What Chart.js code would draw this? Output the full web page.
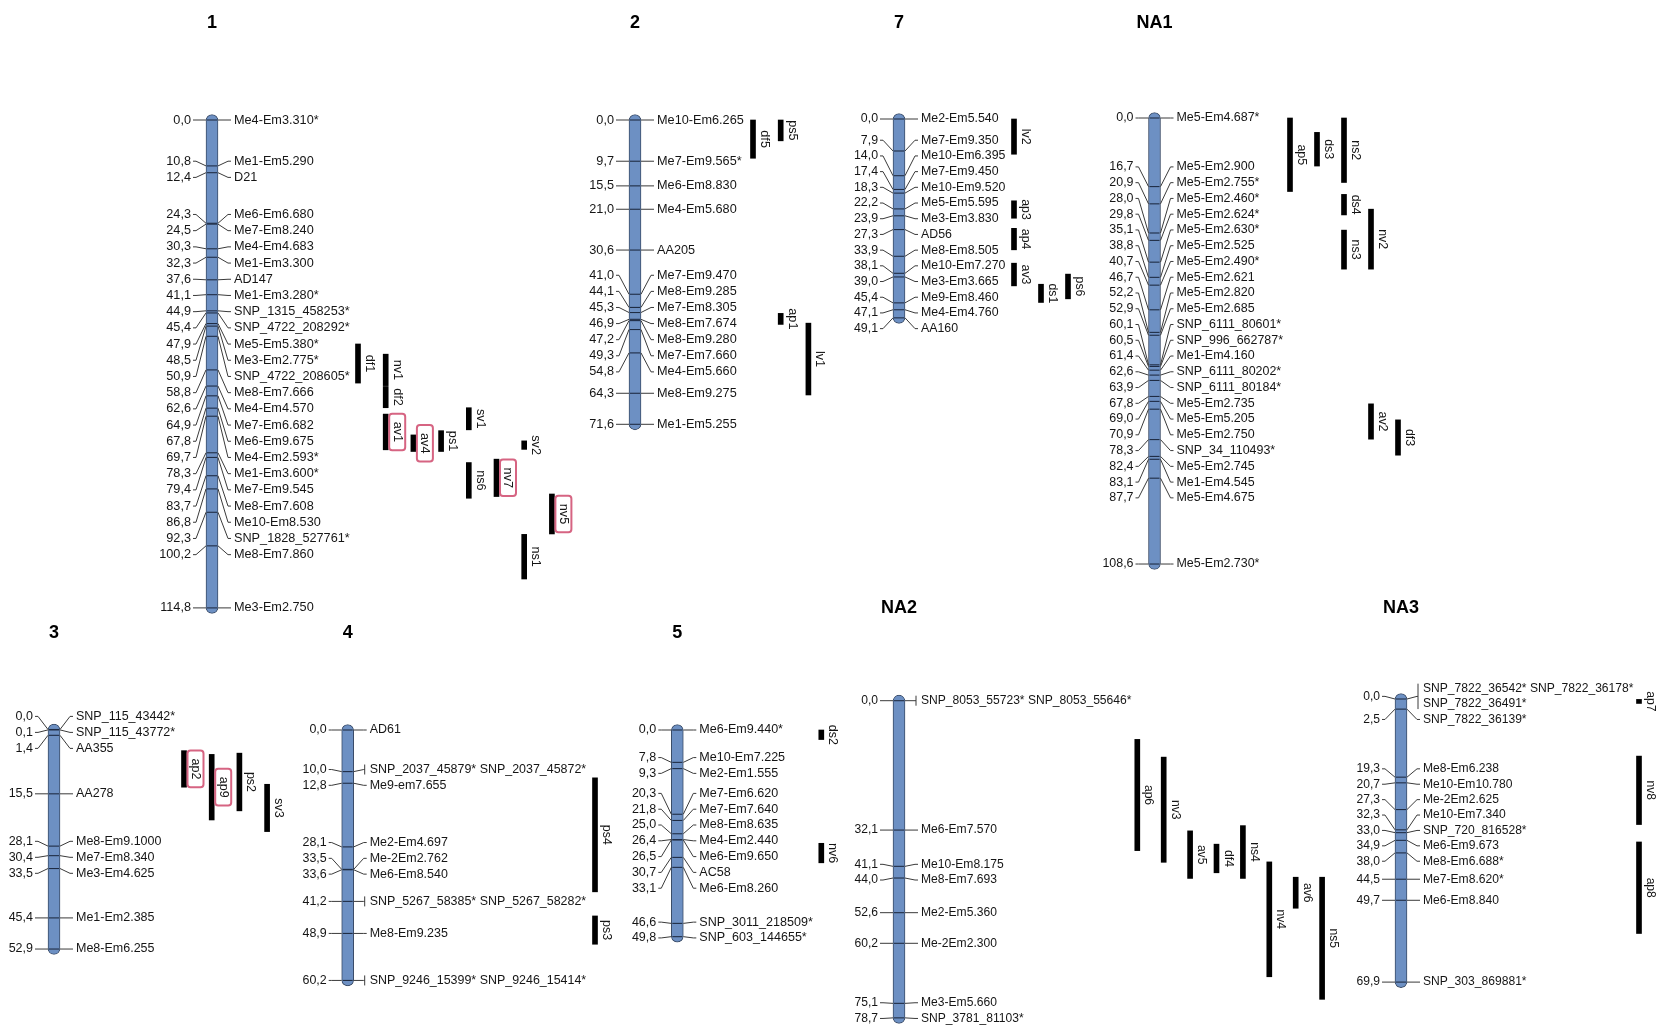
<!DOCTYPE html>
<html>
<head>
<meta charset="utf-8">
<title>Linkage map</title>
<script src="https://cdn.jsdelivr.net/npm/chart.js@4.4.1/dist/chart.umd.min.js"></script>
<style>
  html, body { margin: 0; padding: 0; background: #ffffff; overflow: hidden; }
  canvas { display: block; }
</style>
</head>
<body>
<canvas id="map" width="1656" height="1026"></canvas>
<script>
// ---------------------------------------------------------------
// Linkage groups (order of drawing)
// ---------------------------------------------------------------
const groupKeys = ['1', '2', '7', 'NA1', '3', '4', '5', 'NA2', 'NA3'];

// Marker positions (cM) and marker names per linkage group.
// An array of names means several markers share one locus.
const g1Pos = [0.0, 10.8, 12.4, 24.3, 24.5, 30.3, 32.3, 37.6, 41.1, 44.9, 45.4, 47.9, 48.5, 50.9, 58.8, 62.6, 64.9, 67.8, 69.7, 78.3, 79.4, 83.7, 86.8, 92.3, 100.2, 114.8];
const g1Names = ['Me4-Em3.310*', 'Me1-Em5.290', 'D21', 'Me6-Em6.680', 'Me7-Em8.240', 'Me4-Em4.683', 'Me1-Em3.300', 'AD147', 'Me1-Em3.280*', 'SNP_1315_458253*', 'SNP_4722_208292*', 'Me5-Em5.380*', 'Me3-Em2.775*', 'SNP_4722_208605*', 'Me8-Em7.666', 'Me4-Em4.570', 'Me7-Em6.682', 'Me6-Em9.675', 'Me4-Em2.593*', 'Me1-Em3.600*', 'Me7-Em9.545', 'Me8-Em7.608', 'Me10-Em8.530', 'SNP_1828_527761*', 'Me8-Em7.860', 'Me3-Em2.750'];

const g2Pos = [0.0, 9.7, 15.5, 21.0, 30.6, 41.0, 44.1, 45.3, 46.9, 47.2, 49.3, 54.8, 64.3, 71.6];
const g2Names = ['Me10-Em6.265', 'Me7-Em9.565*', 'Me6-Em8.830', 'Me4-Em5.680', 'AA205', 'Me7-Em9.470', 'Me8-Em9.285', 'Me7-Em8.305', 'Me8-Em7.674', 'Me8-Em9.280', 'Me7-Em7.660', 'Me4-Em5.660', 'Me8-Em9.275', 'Me1-Em5.255'];

const g7Pos = [0.0, 7.9, 14.0, 17.4, 18.3, 22.2, 23.9, 27.3, 33.9, 38.1, 39.0, 45.4, 47.1, 49.1];
const g7Names = ['Me2-Em5.540', 'Me7-Em9.350', 'Me10-Em6.395', 'Me7-Em9.450', 'Me10-Em9.520', 'Me5-Em5.595', 'Me3-Em3.830', 'AD56', 'Me8-Em8.505', 'Me10-Em7.270', 'Me3-Em3.665', 'Me9-Em8.460', 'Me4-Em4.760', 'AA160'];

const na1Pos = [0.0, 16.7, 20.9, 28.0, 29.8, 35.1, 38.8, 40.7, 46.7, 52.2, 52.9, 60.1, 60.5, 61.4, 62.6, 63.9, 67.8, 69.0, 70.9, 78.3, 82.4, 83.1, 87.7, 108.6];
const na1Names = ['Me5-Em4.687*', 'Me5-Em2.900', 'Me5-Em2.755*', 'Me5-Em2.460*', 'Me5-Em2.624*', 'Me5-Em2.630*', 'Me5-Em2.525', 'Me5-Em2.490*', 'Me5-Em2.621', 'Me5-Em2.820', 'Me5-Em2.685', 'SNP_6111_80601*', 'SNP_996_662787*', 'Me1-Em4.160', 'SNP_6111_80202*', 'SNP_6111_80184*', 'Me5-Em2.735', 'Me5-Em5.205', 'Me5-Em2.750', 'SNP_34_110493*', 'Me5-Em2.745', 'Me1-Em4.545', 'Me5-Em4.675', 'Me5-Em2.730*'];

const g3Pos = [0.0, 0.1, 1.4, 15.5, 28.1, 30.4, 33.5, 45.4, 52.9];
const g3Names = ['SNP_115_43442*', 'SNP_115_43772*', 'AA355', 'AA278', 'Me8-Em9.1000', 'Me7-Em8.340', 'Me3-Em4.625', 'Me1-Em2.385', 'Me8-Em6.255'];

const g4Pos = [0.0, 10.0, 12.8, 28.1, 33.5, 33.6, 41.2, 48.9, 60.2];
const g4Names = ['AD61', ['SNP_2037_45879*', 'SNP_2037_45872*'], 'Me9-em7.655', 'Me2-Em4.697', 'Me-2Em2.762', 'Me6-Em8.540', ['SNP_5267_58385*', 'SNP_5267_58282*'], 'Me8-Em9.235', ['SNP_9246_15399*', 'SNP_9246_15414*']];

const g5Pos = [0.0, 7.8, 9.3, 20.3, 21.8, 25.0, 26.4, 26.5, 30.7, 33.1, 46.6, 49.8];
const g5Names = ['Me6-Em9.440*', 'Me10-Em7.225', 'Me2-Em1.555', 'Me7-Em6.620', 'Me7-Em7.640', 'Me8-Em8.635', 'Me4-Em2.440', 'Me6-Em9.650', 'AC58', 'Me6-Em8.260', 'SNP_3011_218509*', 'SNP_603_144655*'];

const na2Pos = [0.0, 32.1, 41.1, 44.0, 52.6, 60.2, 75.1, 78.7];
const na2Names = [['SNP_8053_55723*', 'SNP_8053_55646*'], 'Me6-Em7.570', 'Me10-Em8.175', 'Me8-Em7.693', 'Me2-Em5.360', 'Me-2Em2.300', 'Me3-Em5.660', 'SNP_3781_81103*'];

const na3Pos = [0.0, 2.5, 19.3, 20.7, 27.3, 32.3, 33.0, 34.9, 38.0, 44.5, 49.7, 69.9];
const na3Names = [['SNP_7822_36542*', 'SNP_7822_36178*', 'SNP_7822_36491*'], 'SNP_7822_36139*', 'Me8-Em6.238', 'Me10-Em10.780', 'Me-2Em2.625', 'Me10-Em7.340', 'SNP_720_816528*', 'Me6-Em9.673', 'Me8-Em6.688*', 'Me7-Em8.620*', 'Me6-Em8.840', 'SNP_303_869881*'];

// ---------------------------------------------------------------
// QTL intervals (cM)
// ---------------------------------------------------------------
const qtlNames = ['df1', 'nv1', 'df2', 'av1', 'av4', 'ps1', 'sv1', 'ns6', 'nv7', 'sv2', 'nv5', 'ns1',
                  'df5', 'ps5', 'ap1', 'lv1',
                  'lv2', 'ap3', 'ap4', 'av3', 'ds1', 'ps6',
                  'ap5', 'ds3', 'ns2', 'ds4', 'ns3', 'nv2', 'av2', 'df3',
                  'ap2', 'ap9', 'ps2', 'sv3',
                  'ps4', 'ps3',
                  'ds2', 'nv6',
                  'ap6', 'nv3', 'av5', 'df4', 'ns4', 'nv4', 'av6', 'ns5',
                  'ap7', 'nv8', 'ap8'];
const qtlGroup = ['1', '1', '1', '1', '1', '1', '1', '1', '1', '1', '1', '1',
                  '2', '2', '2', '2',
                  '7', '7', '7', '7', '7', '7',
                  'NA1', 'NA1', 'NA1', 'NA1', 'NA1', 'NA1', 'NA1', 'NA1',
                  '3', '3', '3', '3',
                  '4', '4',
                  '5', '5',
                  'NA2', 'NA2', 'NA2', 'NA2', 'NA2', 'NA2', 'NA2', 'NA2',
                  'NA3', 'NA3', 'NA3'];
const qtlStart = [52.7, 55.1, 62.7, 69.2, 74.1, 73.1, 67.7, 80.6, 79.8, 75.5, 88.0, 97.5,
                  0.0, 0.0, 45.5, 47.8,
                  0.0, 20.2, 27.0, 35.6, 40.8, 38.3,
                  0.0, 3.5, 0.0, 18.6, 27.3, 22.2, 69.6, 73.5,
                  5.1, 6.0, 5.7, 13.2,
                  11.5, 44.7,
                  0.0, 27.3,
                  9.6, 14.0, 32.3, 35.6, 31.0, 40.0, 43.8, 43.8,
                  0.1, 14.1, 35.3];
const qtlEnd   = [61.9, 62.5, 67.7, 77.6, 78.0, 78.0, 72.9, 89.0, 88.6, 77.5, 97.4, 108.0,
                  9.0, 4.9, 48.1, 64.7,
                  8.7, 24.5, 32.3, 41.2, 45.3, 44.4,
                  17.9, 11.7, 15.7, 23.6, 36.8, 36.8, 78.2, 82.1,
                  13.9, 21.8, 19.6, 24.6,
                  38.9, 51.5,
                  2.3, 32.0,
                  37.2, 40.1, 44.1, 42.7, 44.1, 68.5, 51.5, 74.1,
                  1.1, 31.0, 57.9];
// QTLs whose labels are framed
const qtlFramed = ['av1', 'av4', 'nv7', 'nv5', 'ap2', 'ap9'];

// ---------------------------------------------------------------
// Layout (page geometry, not data)
// ---------------------------------------------------------------
const W = 1656, H = 1026;
const positions = { '1': g1Pos, '2': g2Pos, '7': g7Pos, 'NA1': na1Pos, '3': g3Pos, '4': g4Pos, '5': g5Pos, 'NA2': na2Pos, 'NA3': na3Pos };
const markerNames = { '1': g1Names, '2': g2Names, '7': g7Names, 'NA1': na1Names, '3': g3Names, '4': g4Names, '5': g5Names, 'NA2': na2Names, 'NA3': na3Names };

// x: chromosome centre, y0: pixel row of 0 cM, k: pixels per cM,
// gap: label row pitch, fs: label font size, titleY: title row
const groupLayout = {
  '1':   { x: 212,    y0: 120,   k: 4.25,  gap: 16.2,  fs: 12.7,  titleY: 23 },
  '2':   { x: 635,    y0: 120,   k: 4.25,  gap: 16.1,  fs: 12.7,  titleY: 23 },
  '7':   { x: 899,    y0: 119,   k: 4.05,  gap: 15.7,  fs: 12.35, titleY: 23 },
  'NA1': { x: 1154.5, y0: 118,   k: 4.107, gap: 15.76, fs: 12.45, titleY: 23 },
  '3':   { x: 54,     y0: 729.5, k: 4.15,  gap: 16.0,  fs: 12.5,  titleY: 633 },
  '4':   { x: 347.7,  y0: 730,   k: 4.16,  gap: 15.8,  fs: 12.45, titleY: 633 },
  '5':   { x: 677.3,  y0: 730,   k: 4.15,  gap: 15.8,  fs: 12.55, titleY: 633 },
  'NA2': { x: 899,    y0: 700.7, k: 4.03,  gap: 15.7,  fs: 12.1,  titleY: 608 },
  'NA3': { x: 1401,   y0: 699.0, k: 4.05,  gap: 15.4,  fs: 12.1,  titleY: 608 }
};
// QTL bar columns: first column centre and column pitch per group
const qtlColumnLayout = {
  '1': { x0: 358, step: 27.7 }, '2': { x0: 753, step: 27.7 }, '7': { x0: 1014, step: 27 },
  'NA1': { x0: 1290, step: 27 }, '3': { x0: 184, step: 27.7 }, '4': { x0: 595, step: 27.7 },
  '5': { x0: 821.3, step: 27.7 }, 'NA2': { x0: 1137.3, step: 26.4 }, 'NA3': { x0: 1639, step: 27 }
};
// column index of each QTL bar (parallel to qtlNames)
const qtlColumn = [0, 1, 1, 1, 2, 3, 4, 4, 5, 6, 7, 6,
                   0, 1, 1, 2,
                   0, 0, 0, 0, 1, 2,
                   0, 1, 2, 2, 2, 3, 3, 4,
                   0, 1, 2, 3,
                   0, 0,
                   0, 0,
                   0, 1, 2, 3, 4, 5, 6, 7,
                   0, 0, 0];

const CHROM_W = 12;
const CHROM_PAD_PX = 5.5;
const QTL_W = 5;
const FONT_FAMILY = "'Liberation Sans', Arial, sans-serif";
const TITLE_FONT = "bold 18px " + FONT_FAMILY;
const CHROM_FILL = '#6d90c3';
const CHROM_EDGE = '#3a4b66';
const BAND_COLOR = '#1f2c44';
const LINE_COLOR = '#3a3a3a';
const TEXT_COLOR = '#151515';
const FRAME_COLOR = '#d66482';

function labelFont(key) { return groupLayout[key].fs + 'px ' + FONT_FAMILY; }

function qtlX(i) {
  const c = qtlColumnLayout[qtlGroup[i]];
  return c.x0 + qtlColumn[i] * c.step;
}

function fmtCM(v) { return v.toFixed(1).replace('.', ','); }

// names of one locus wrapped two per row
function rowsOf(entry) {
  if (!Array.isArray(entry)) return [entry];
  const rows = [];
  for (let i = 0; i < entry.length; i += 2) rows.push(entry.slice(i, i + 2).join(' '));
  return rows;
}

// Spread marker labels so that rows are at least `gap` apart; overlapping
// runs are merged and centred on the midpoint of their first and last marker.
function spreadLabels(ys, rowCounts, gap) {
  let clusters = ys.map((y, i) => ({ a: i, b: i }));
  const extent = c => {
    let n = 0;
    for (let i = c.a; i <= c.b; i++) n += rowCounts[i];
    const mid = (ys[c.a] + ys[c.b]) / 2;
    return { top: mid - (n - 1) * gap / 2, bot: mid + (n - 1) * gap / 2 };
  };
  let changed = true;
  while (changed) {
    changed = false;
    for (let i = 0; i < clusters.length - 1; i++) {
      if (extent(clusters[i + 1]).top - extent(clusters[i]).bot < gap - 0.01) {
        clusters.splice(i, 2, { a: clusters[i].a, b: clusters[i + 1].b });
        changed = true;
        break;
      }
    }
  }
  const out = [];
  clusters.forEach(c => {
    let t = extent(c).top;
    for (let i = c.a; i <= c.b; i++) {
      const r = [];
      for (let j = 0; j < rowCounts[i]; j++) r.push(t + j * gap);
      out[i] = r;
      t += rowCounts[i] * gap;
    }
  });
  return out;
}

function roundRectPath(ctx, x, y, w, h, r) {
  ctx.beginPath();
  ctx.moveTo(x + r, y);
  ctx.lineTo(x + w - r, y);
  ctx.arcTo(x + w, y, x + w, y + r, r);
  ctx.lineTo(x + w, y + h - r);
  ctx.arcTo(x + w, y + h, x + w - r, y + h, r);
  ctx.lineTo(x + r, y + h);
  ctx.arcTo(x, y + h, x, y + h - r, r);
  ctx.lineTo(x, y + r);
  ctx.arcTo(x, y, x + r, y, r);
  ctx.closePath();
}

function drawGroup(ctx, xs, ys, key) {
  const g = groupLayout[key];
  const pos = positions[key];
  const names = markerNames[key];
  const xc = xs.getPixelForValue(g.x);
  const half = CHROM_W / 2;
  const my = pos.map(p => ys.getPixelForValue(p));
  const rows = names.map(rowsOf);
  const rowY = spreadLabels(my, rows.map(r => r.length), g.gap);

  // marker bands across the chromosome
  ctx.strokeStyle = BAND_COLOR;
  ctx.lineWidth = 1.1;
  my.forEach(y => {
    ctx.beginPath();
    ctx.moveTo(xc - half + 1, y);
    ctx.lineTo(xc + half - 1, y);
    ctx.stroke();
  });

  ctx.strokeStyle = LINE_COLOR;
  ctx.lineWidth = 1;
  ctx.font = labelFont(key);
  ctx.fillStyle = TEXT_COLOR;
  ctx.textBaseline = 'middle';

  pos.forEach((p, i) => {
    const r = rowY[i];
    const ly = r.reduce((s, v) => s + v, 0) / r.length;
    const multi = Array.isArray(names[i]);

    // left connector and position label
    ctx.beginPath();
    ctx.moveTo(xc - 19, ly);
    ctx.lineTo(xc - 16, ly);
    ctx.lineTo(xc - half, my[i]);
    ctx.stroke();
    ctx.textAlign = 'right';
    ctx.fillText(fmtCM(p), xc - 21, ly);

    // right connector and marker name(s)
    ctx.beginPath();
    ctx.moveTo(xc + half, my[i]);
    ctx.lineTo(xc + 16, ly);
    ctx.lineTo(multi ? xc + 17 : xc + 19, ly);
    ctx.stroke();
    if (multi) {
      ctx.beginPath();
      ctx.moveTo(xc + 17, r[0] - 5);
      ctx.lineTo(xc + 17, r[r.length - 1] + 5);
      ctx.stroke();
    }
    ctx.textAlign = 'left';
    rows[i].forEach((t, j) => ctx.fillText(t, xc + 22, r[j]));
  });

  // group title
  ctx.font = TITLE_FONT;
  ctx.textAlign = 'center';
  ctx.fillStyle = '#000';
  ctx.fillText(key, xc, g.titleY);
}

function drawQtlLabels(ctx, chart) {
  const xs = chart.scales.x;
  ctx.fillStyle = TEXT_COLOR;
  qtlNames.forEach((name, i) => {
    const key = qtlGroup[i];
    const ys = chart.scales['y' + key];
    ctx.font = labelFont(key);
    const bx = xs.getPixelForValue(qtlX(i));
    const y1 = ys.getPixelForValue(qtlStart[i]);
    const y2 = ys.getPixelForValue(qtlEnd[i]);
    const ym = (y1 + y2) / 2;
    const tw = ctx.measureText(name).width;
    if (qtlFramed.includes(name)) {
      ctx.strokeStyle = FRAME_COLOR;
      ctx.lineWidth = 2;
      roundRectPath(ctx, bx + 3.5, ym - (tw + 16) / 2, 16, tw + 16, 3);
      ctx.stroke();
    }
    ctx.save();
    ctx.translate(bx + 11.5, ym);
    ctx.rotate(Math.PI / 2);
    ctx.textAlign = 'center';
    ctx.textBaseline = 'middle';
    ctx.fillText(name, 0, 0);
    ctx.restore();
  });
}

const mapLabels = {
  id: 'mapLabels',
  afterDatasetsDraw(chart) {
    const ctx = chart.ctx;
    ctx.save();
    groupKeys.forEach(key => drawGroup(ctx, chart.scales.x, chart.scales['y' + key], key));
    drawQtlLabels(ctx, chart);
    ctx.restore();
  }
};

// ---------------------------------------------------------------
// Datasets: chromosomes and QTL bars as floating bars
// ---------------------------------------------------------------
const datasets = [];
groupKeys.forEach(key => {
  const g = groupLayout[key];
  const pos = positions[key];
  const len = pos[pos.length - 1];
  const pad = CHROM_PAD_PX / g.k;
  datasets.push({
    label: 'LG ' + key,
    xAxisID: 'x',
    yAxisID: 'y' + key,
    data: [{ x: g.x, y: [-pad, len + pad] }],
    backgroundColor: CHROM_FILL,
    borderColor: CHROM_EDGE,
    borderWidth: 1,
    borderRadius: CHROM_W / 2,
    borderSkipped: false,
    barThickness: CHROM_W,
    grouped: false
  });
});
groupKeys.forEach(key => {
  const data = [];
  qtlNames.forEach((n, i) => {
    if (qtlGroup[i] === key) data.push({ x: qtlX(i), y: [qtlStart[i], qtlEnd[i]] });
  });
  if (!data.length) return;
  datasets.push({
    label: 'QTL ' + key,
    xAxisID: 'x',
    yAxisID: 'y' + key,
    data,
    backgroundColor: '#000000',
    borderWidth: 0,
    barThickness: QTL_W,
    grouped: false
  });
});

const scales = {
  x: { type: 'linear', min: 0, max: W, display: false, offset: false, bounds: 'data' },
  y: { type: 'linear', display: false }
};
groupKeys.forEach(key => {
  const g = groupLayout[key];
  scales['y' + key] = {
    type: 'linear',
    reverse: true,
    display: false,
    bounds: 'data',
    beginAtZero: false,
    min: -g.y0 / g.k,
    max: (H - g.y0) / g.k
  };
});

new Chart(document.getElementById('map'), {
  type: 'bar',
  data: { datasets },
  options: {
    responsive: false,
    animation: false,
    devicePixelRatio: 1,
    events: [],
    layout: { padding: 0 },
    plugins: { legend: { display: false }, tooltip: { enabled: false }, title: { display: false } },
    scales
  },
  plugins: [mapLabels]
});
</script>
</body>
</html>
